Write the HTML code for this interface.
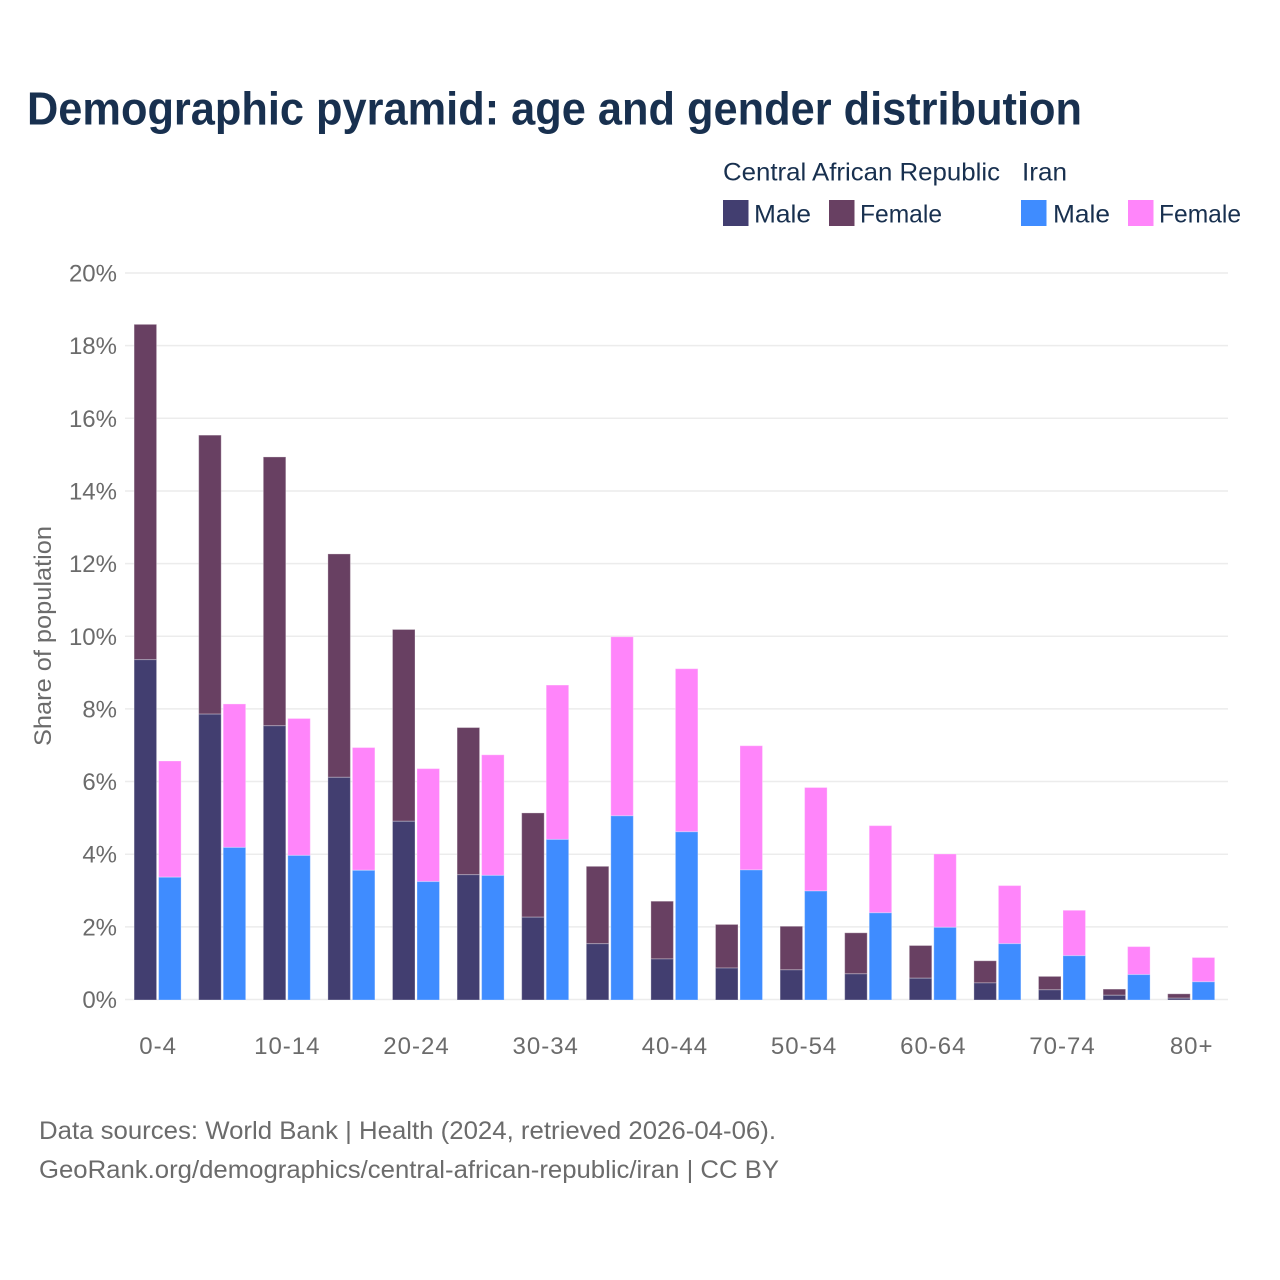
<!DOCTYPE html>
<html lang="en">
<head>
<meta charset="utf-8">
<title>Demographic pyramid: age and gender distribution</title>
<style>
html,body{margin:0;padding:0;background:#fff;width:1280px;height:1280px;overflow:hidden}
svg{display:block;font-family:"Liberation Sans",sans-serif}
.legend{font-size:25px;fill:#18304f}
.tick{font-size:24px;fill:#6b6b6b}
.foot{font-size:25px;fill:#6b6b6b}
</style>
</head>
<body>
<svg id="chart" width="1280" height="1280" viewBox="0 0 1280 1280" xmlns="http://www.w3.org/2000/svg">
  <rect width="1280" height="1280" fill="#fff"/>
  <text x="27" y="124.5" font-size="46" font-weight="700" fill="#18304f" textLength="1055" lengthAdjust="spacingAndGlyphs">Demographic pyramid: age and gender distribution</text>

  <g>
    <text class="legend" x="723" y="180.5" textLength="277" lengthAdjust="spacingAndGlyphs">Central African Republic</text>
    <text class="legend" x="1022" y="180.5" textLength="45" lengthAdjust="spacingAndGlyphs">Iran</text>
    <rect x="723" y="200" width="25.5" height="26" fill="#423e70"/>
    <text class="legend" x="754" y="222.5" textLength="57" lengthAdjust="spacingAndGlyphs">Male</text>
    <rect x="829" y="200" width="25.5" height="26" fill="#684062"/>
    <text class="legend" x="860" y="222.5" textLength="82" lengthAdjust="spacingAndGlyphs">Female</text>
    <rect x="1021" y="200" width="25.5" height="26" fill="#3f8cff"/>
    <text class="legend" x="1053" y="222.5" textLength="57" lengthAdjust="spacingAndGlyphs">Male</text>
    <rect x="1128" y="200" width="25.5" height="26" fill="#ff85fa"/>
    <text class="legend" x="1159" y="222.5" textLength="82" lengthAdjust="spacingAndGlyphs">Female</text>
  </g>

  <g id="grid"></g>
  <g id="yticks"></g>
  <g id="bars" transform="translate(0,0.5)"></g>
  <g id="xticks"></g>

  <text class="tick" transform="translate(51,636) rotate(-90)" text-anchor="middle" textLength="220" lengthAdjust="spacingAndGlyphs">Share of population</text>

  <text class="foot" x="39" y="1139" textLength="737" lengthAdjust="spacingAndGlyphs">Data sources: World Bank | Health (2024, retrieved 2026-04-06).</text>
  <text class="foot" x="39" y="1178" textLength="740" lengthAdjust="spacingAndGlyphs">GeoRank.org/demographics/central-african-republic/iran | CC BY</text>
</svg>
<script>
const categories = ["0-4","5-9","10-14","15-19","20-24","25-29","30-34","35-39","40-44","45-49","50-54","55-59","60-64","65-69","70-74","75-79","80+"];
const tickLabels = ["0-4","","10-14","","20-24","","30-34","","40-44","","50-54","","60-64","","70-74","","80+"];
const yTicks = [0,2,4,6,8,10,12,14,16,18,20];
const carMale = [9.37,7.87,7.55,6.13,4.92,3.45,2.28,1.55,1.13,0.88,0.83,0.72,0.60,0.47,0.28,0.13,0.05];
const carFemale = [9.23,7.68,7.40,6.15,5.28,4.05,2.87,2.13,1.59,1.20,1.20,1.13,0.90,0.61,0.37,0.17,0.12];
const iranMale = [3.38,4.20,3.98,3.57,3.26,3.43,4.42,5.07,4.63,3.58,3.00,2.40,2.00,1.55,1.22,0.70,0.50];
const iranFemale = [3.20,3.95,3.77,3.38,3.11,3.32,4.25,4.93,4.49,3.42,2.85,2.40,2.02,1.60,1.25,0.77,0.67];

const NS = "http://www.w3.org/2000/svg";
const yScale = v => 999.5 - v * 36.325;
const xCenter = i => 157.5 + i * 64.6;
const barW = 22.5;
const gap = 2;

function make(tag, attrs, parent) {
  const el = document.createElementNS(NS, tag);
  Object.keys(attrs).forEach(k => el.setAttribute(k, attrs[k]));
  parent.appendChild(el);
  return el;
}

const gridG = document.getElementById("grid");
const yG = document.getElementById("yticks");
yTicks.forEach(t => {
  const line = make("line", {x1:125, x2:1228, y1:yScale(t), y2:yScale(t), stroke:"#ececec", "stroke-width":1.5}, gridG);
  
  
  const label = make("text", {x:117, y:yScale(t)+8.5, "text-anchor":"end", class:"tick"}, yG);
  
  
  label.textContent = t + "%";
});

const barsG = document.getElementById("bars");
function bar(x, base, value, fill, name) {
  const top = yScale(base + value);
  const r = make("rect", {x:x, y:top, width:barW, height:yScale(base)-top, fill:fill, stroke:"#ffffff", "stroke-opacity":0.3, "stroke-width":1}, barsG);
  
  
}
categories.forEach((c, i) => {
  const xa = xCenter(i) - barW - gap/2 + 0.1;
  const xb = xCenter(i) + gap/2 + 0.1;
  bar(xa, carMale[i], carFemale[i], "#684062", "bar-car-female");
  bar(xa, 0, carMale[i], "#423e70", "bar-car-male");
  bar(xb, iranMale[i], iranFemale[i], "#ff85fa", "bar-iran-female");
  bar(xb, 0, iranMale[i], "#3f8cff", "bar-iran-male");
});

const xG = document.getElementById("xticks");
tickLabels.forEach((t, i) => {
  if (!t) return;
  const label = make("text", {x:xCenter(i)+0.6, y:1054, "text-anchor":"middle", class:"tick", "letter-spacing":"1"}, xG);
  
  
  label.textContent = t;
});
</script>
</body>
</html>
